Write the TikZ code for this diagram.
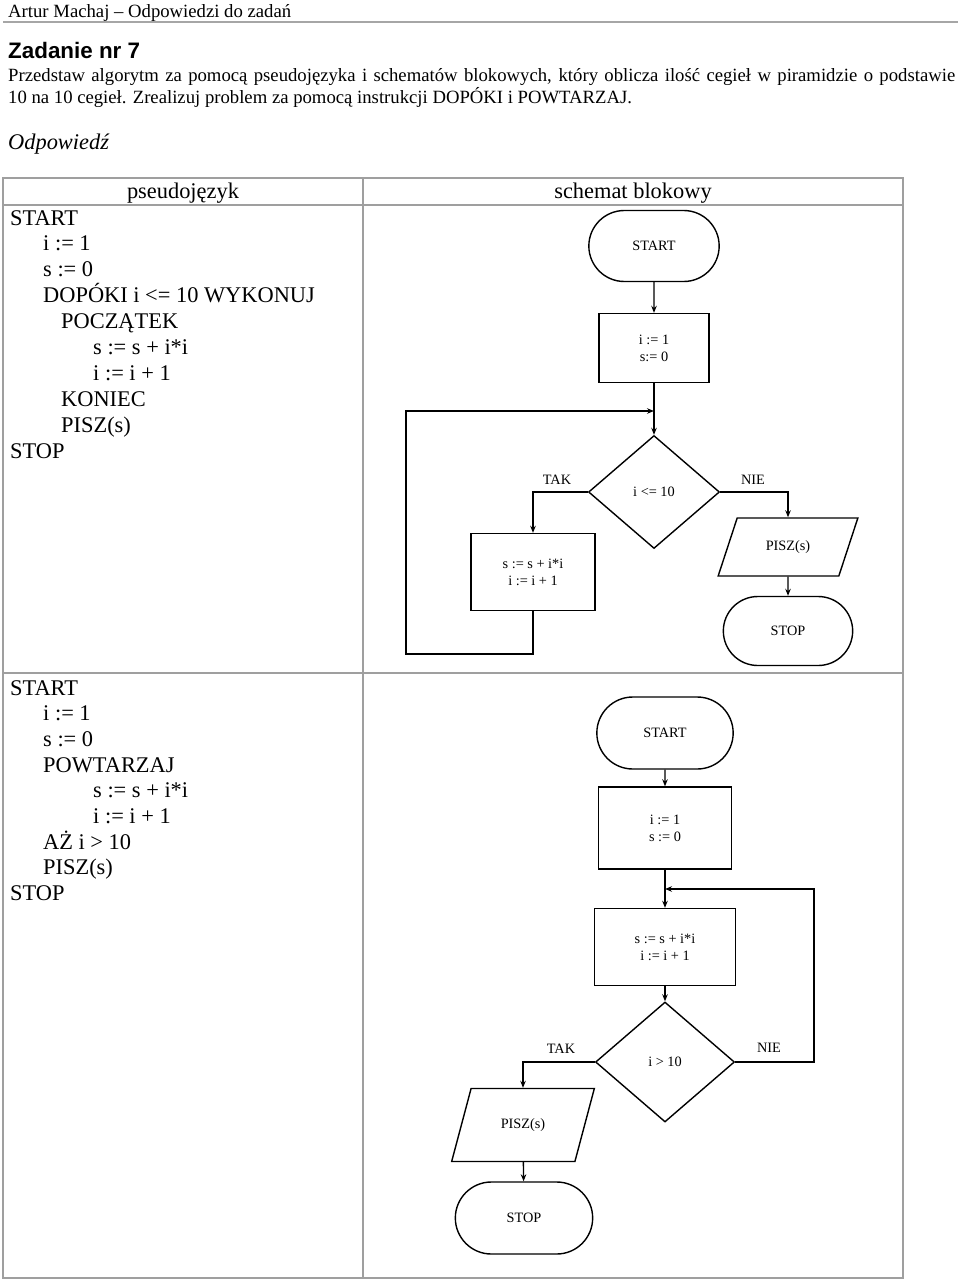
\documentclass[tikz,border=0pt]{standalone}
\usepackage{fontspec}
\setmainfont{Liberation Serif}
\setsansfont{Liberation Sans}
\usepackage{tikz}
\usetikzlibrary{shapes,arrows.meta,positioning,calc}

\newcommand{\bodyfont}{\fontsize{18.7}{22}\selectfont}
\newcommand{\codefont}{\fontsize{22.4}{26}\selectfont}
\newcommand{\chartfont}{\fontsize{14.3}{17}\selectfont}

\begin{document}
\begin{tikzpicture}[x=1pt, y=-1pt,
    >={Stealth[length=7pt,width=5.5pt]},
    tbl/.style={draw=gray!75, line width=1.2pt},
    flow/.style={->, line width=1.4pt},
    term/.style={rounded rectangle, draw, line width=1.4pt, font=\chartfont},
    proc/.style={rectangle, draw, line width=1.4pt, align=center, font=\chartfont},
    cond/.style={diamond, draw, line width=1.4pt, inner sep=0pt, font=\chartfont},
    io/.style={trapezium, trapezium left angle=64, trapezium right angle=116,
               trapezium stretches=true, draw, line width=1.4pt, font=\chartfont},
    code/.style={anchor=base west, inner sep=0pt, font=\codefont},
    txt/.style={anchor=base west, inner sep=0pt, font=\bodyfont},
    lbl/.style={font=\chartfont, inner sep=1pt}]
    \useasboundingbox (0,0) rectangle (960,1280);

    % Page header
    \node[txt] (author) at (8,17) {Artur Machaj – Odpowiedzi do zadań};
    \draw[gray!70, line width=1.5pt] (3,22) -- (958,22);
    \node[txt, font=\sffamily\bfseries\fontsize{22.4}{26}\selectfont] (task) at (8,58) {Zadanie nr 7};
    \node[txt] (line1) at (8,81) {\makebox[947pt][s]{Przedstaw algorytm za pomocą pseudojęzyka i schematów blokowych, który oblicza ilość cegieł w piramidzie o podstawie}};
    \node[txt] (line2) at (8,103) {10 na 10 cegieł. Zrealizuj problem za pomocą instrukcji DOPÓKI i POWTARZAJ.};
    \node[txt, font=\itshape\fontsize{22.4}{26}\selectfont] (answer) at (8,149) {Odpowiedź};

    % Table
    \draw[tbl] (3,178) rectangle (903,1278);
    \draw[tbl] (3,205) -- (903,205);
    \draw[tbl] (3,673) -- (903,673);
    \draw[tbl] (363,178) -- (363,1278);
    \node[anchor=base, inner sep=0pt, font=\codefont] (hcode) at (183,198) {pseudojęzyk};
    \node[anchor=base, inner sep=0pt, font=\codefont] (hchart) at (633,198) {schemat blokowy};

    % Pseudocode (DOPOKI)
    \foreach \x/\t [count=\n] in {10/START, 43/{i := 1}, 43/{s := 0}, 43/{DOPÓKI i <= 10 WYKONUJ},
        61/POCZĄTEK, 93/{s := s + i*i}, 93/{i := i + 1}, 61/KONIEC, 61/{PISZ(s)}, 10/STOP}
        \node[code] (dop\n) at (\x, {225+25.9*(\n-1)}) {\t};

    % Pseudocode (POWTARZAJ)
    \foreach \x/\t [count=\n] in {10/START, 43/{i := 1}, 43/{s := 0}, 43/POWTARZAJ,
        93/{s := s + i*i}, 93/{i := i + 1}, 43/{AŻ i > 10}, 43/{PISZ(s)}, 10/STOP}
        \node[code] (pow\n) at (\x, {695+25.7*(\n-1)}) {\t};

    % Flowchart 1 (DOPOKI)
    \node[term, minimum width=137pt, minimum height=71pt] (start1) at (654,246) {START};
    \node[proc, minimum width=110pt, minimum height=69pt] (init1) at (654,348) {i := 1\\s:= 0};
    \coordinate (j1) at (654,411);
    \node[cond, minimum width=131pt, minimum height=113pt] (cond1) at (654,492) {i <= 10};
    \node[proc, minimum width=124pt, minimum height=77pt] (body1) at (533,572) {s := s + i*i\\i := i + 1};
    \node[io, minimum width=140pt, minimum height=58pt] (out1) at (788,547) {PISZ(s)};
    \node[term, minimum width=136pt, minimum height=69pt] (stop1) at (788,631) {STOP};
    \coordinate (c1) at (406,654);
    \node[lbl] (tak1) at (557,480) {TAK};
    \node[lbl] (nie1) at (753,480) {NIE};

    \draw[flow] (start1) -- (init1);
    \draw[flow] (init1) -- (cond1);
    \draw[flow] (cond1.west) -| (body1.north);
    \draw[flow] (cond1.east) -| (out1.north);
    \draw[flow] (out1) -- (stop1);
    \draw[flow] (body1.south) |- (c1) |- (j1);

    % Flowchart 2 (POWTARZAJ)
    \node[term, minimum width=143pt, minimum height=72pt] (start2) at (665,733) {START};
    \node[proc, minimum width=133pt, minimum height=82pt] (init2) at (665,828) {i := 1\\s := 0};
    \coordinate (j2) at (665,889);
    \node[proc, minimum width=141pt, minimum height=77pt] (body2) at (665,947) {s := s + i*i\\i := i + 1};
    \node[cond, minimum width=139pt, minimum height=120pt] (cond2) at (665,1062) {i > 10};
    \node[io, minimum width=143pt, minimum height=73pt] (out2) at (523,1125) {PISZ(s)};
    \node[term, minimum width=144pt, minimum height=72pt] (stop2) at (524,1218) {STOP};
    \coordinate (k2) at (814,889);
    \node[lbl] (tak2) at (561,1049) {TAK};
    \node[lbl] (nie2) at (769,1048) {NIE};

    \draw[flow] (start2) -- (init2);
    \draw[flow] (init2) -- (body2);
    \draw[flow] (body2) -- (cond2);
    \draw[flow] (cond2.west) -| (out2.north);
    \draw[flow] (out2) -- (stop2);
    \draw[flow] (cond2.east) -| (k2) -- (j2);
\end{tikzpicture}
\end{document}
